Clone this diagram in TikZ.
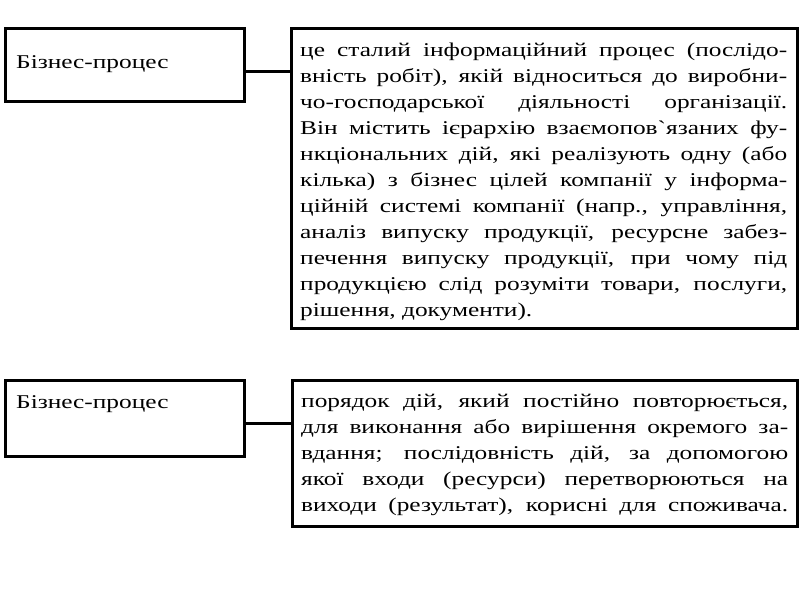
\documentclass[tikz,border=0pt]{standalone}
\usepackage{fontspec}
\setmainfont{Liberation Serif}[FakeStretch=1.3]
\newfontfamily\bodyfont{Liberation Serif}[FakeStretch=1.3]
\tikzset{
  frame/.style={draw=black, line width=3pt, inner sep=0pt, anchor=north west},
  lbl/.style={anchor=west, inner sep=0pt, font=\fontsize{19.5}{26}\selectfont},
  body/.style={anchor=north west, inner sep=0pt, align=left, font=\bodyfont\fontsize{19.5}{26}\selectfont},
  link/.style={draw=black, line width=3pt}
}
\newcommand{\jline}[1]{\makebox[487pt][s]{#1}\\}
\newcommand{\lline}[1]{\makebox[487pt][l]{#1}}
\begin{document}
\begin{tikzpicture}[x=1pt,y=-1pt]
\useasboundingbox[fill=white] (0,0) rectangle (800,600);
% top pair
\node[frame, minimum width=239pt, minimum height=73pt] (l1) at (3.5,26.5) {};
\node[lbl] (t1) at (16,64) {Бізнес-процес};
\node[frame, minimum width=506.5pt, minimum height=300pt] (r1) at (289.5,26.5) {};
\node[body] (d1) at (300,43) {%
\jline{це сталий інформаційний процес (послідо-}
\jline{вність робіт), якій відноситься до виробни-}
\jline{чо-господарської діяльності організації.}
\jline{Він містить ієрархію взаємопов`язаних фу-}
\jline{нкціональних дій, які реалізують одну (або}
\jline{кілька) з бізнес цілей компанії у інформа-}
\jline{ційній системі компанії (напр., управління,}
\jline{аналіз випуску продукції, ресурсне забез-}
\jline{печення випуску продукції, при чому під}
\jline{продукцією слід розуміти товари, послуги,}
\lline{рішення, документи).}};
\draw[link] ([yshift=-7pt]l1.east) -- ([yshift=-7pt]l1.east -| r1.west);
% bottom pair
\node[frame, minimum width=239pt, minimum height=76pt] (l2) at (3.5,378.5) {};
\node[lbl] (t2) at (16,404) {Бізнес-процес};
\node[frame, minimum width=505.5pt, minimum height=146pt] (r2) at (290.5,378.5) {};
\node[body] (d2) at (301,394) {%
\jline{порядок дій, який постійно повторюється,}
\jline{для виконання або вирішення окремого за-}
\jline{вдання; послідовність дій, за допомогою}
\jline{якої входи (ресурси) перетворюються на}
\jline{виходи (результат), корисні для споживача.}};
\draw[link] ([yshift=-5.5pt]l2.east) -- ([yshift=-5.5pt]l2.east -| r2.west);
\end{tikzpicture}
\end{document}
